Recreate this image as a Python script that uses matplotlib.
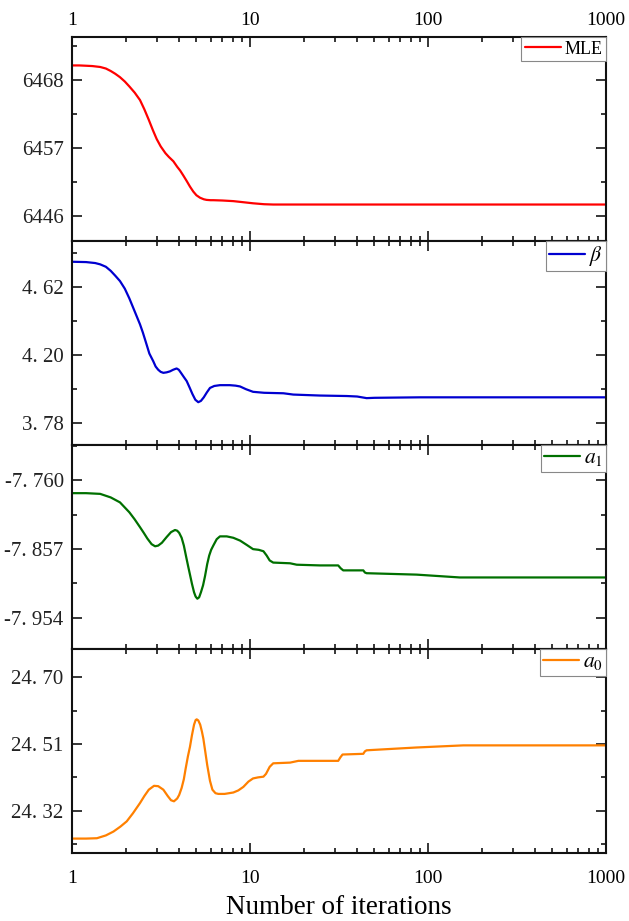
import matplotlib
matplotlib.use("Agg")
import matplotlib.pyplot as plt
from matplotlib.ticker import FixedLocator, FixedFormatter, LogLocator, NullFormatter

plt.rcParams['font.family'] = ['Liberation Serif', 'DejaVu Serif']
plt.rcParams['mathtext.fontset'] = 'stix'

# ---------------- data ----------------
mle_iter = [1, 1.1, 1.2, 1.3, 1.44, 1.55, 1.65, 1.75, 1.86, 1.98, 2.1, 2.25, 2.41, 2.55, 2.7,
            2.85, 2.99, 3.15, 3.35, 3.5, 3.71, 3.9, 4.05, 4.22, 4.41, 4.6, 4.8, 5.0, 5.24,
            5.5, 5.7, 6.0, 6.22, 7, 8.06, 9, 10.4, 12, 13.5, 20, 1000]
mle_vals = [6470.4, 6470.4, 6470.35, 6470.3, 6470.15, 6469.9, 6469.5, 6469.05, 6468.5,
            6467.8, 6467.0, 6466.0, 6464.8, 6463.3, 6461.6, 6459.9, 6458.5, 6457.3, 6456.2,
            6455.6, 6454.9, 6454.0, 6453.4, 6452.6, 6451.7, 6450.8, 6450.0, 6449.4, 6449.0,
            6448.75, 6448.65, 6448.6, 6448.6, 6448.55, 6448.45, 6448.3, 6448.1, 6447.95,
            6447.9, 6447.9, 6447.9]

beta_iter = [1, 1.2, 1.35, 1.44, 1.55, 1.65, 1.75, 1.86, 1.98, 2.1, 2.25, 2.41, 2.5, 2.6,
             2.72, 2.86, 2.95, 3.05, 3.15, 3.26, 3.4, 3.55, 3.7, 3.87, 3.98, 4.1, 4.25,
             4.41, 4.58, 4.75, 4.93, 5.12, 5.3, 5.5, 5.72, 5.96, 6.3, 6.78, 7.7, 8.3, 8.79,
             9.5, 10.4, 12, 15.4, 17.5, 24.7, 35, 40, 45.2, 50, 90, 1000]
beta_vals = [4.776, 4.774, 4.768, 4.760, 4.745, 4.72, 4.69, 4.657, 4.61, 4.55, 4.47, 4.39,
             4.34, 4.28, 4.21, 4.163, 4.13, 4.11, 4.097, 4.091, 4.094, 4.10, 4.11, 4.118,
             4.11, 4.09, 4.065, 4.04, 4.0, 3.96, 3.925, 3.91, 3.918, 3.94, 3.97, 3.998,
             4.01, 4.015, 4.015, 4.012, 4.007, 3.99, 3.974, 3.968, 3.965, 3.957, 3.951,
             3.948, 3.945, 3.935, 3.937, 3.94, 3.94]

a1_iter = [1, 1.2, 1.44, 1.65, 1.86, 2.1, 2.25, 2.41, 2.53, 2.65, 2.8, 2.93, 3.05, 3.2,
           3.40, 3.6, 3.79, 3.9, 4.0, 4.13, 4.25, 4.38, 4.5, 4.60, 4.72, 4.85, 4.95, 5.06,
           5.18, 5.3, 5.45, 5.59, 5.75, 5.9, 6.05, 6.22, 6.5, 6.78, 7.4, 8.06, 8.8, 9.58,
           10.4, 11.2, 11.9, 12.4, 12.9, 13.5, 16.8, 18.3, 24.7, 31.3, 32.3, 33.4, 43.3,
           44.2, 45.2, 86.3, 151, 1000]
a1_vals = [-7.778, -7.778, -7.779, -7.784, -7.791, -7.805, -7.815, -7.826, -7.834, -7.842,
           -7.850, -7.853, -7.852, -7.848, -7.840, -7.833, -7.830, -7.831, -7.834, -7.841,
           -7.852, -7.868, -7.882, -7.893, -7.906, -7.918, -7.924, -7.927, -7.925, -7.918,
           -7.908, -7.895, -7.878, -7.866, -7.858, -7.852, -7.843, -7.839, -7.839, -7.841,
           -7.845, -7.851, -7.857, -7.858, -7.860, -7.866, -7.873, -7.876, -7.877, -7.879,
           -7.880, -7.880, -7.884, -7.887, -7.887, -7.890, -7.891, -7.893, -7.897, -7.897]

a0_iter = [1, 1.2, 1.38, 1.55, 1.71, 1.87, 2.03, 2.2, 2.41, 2.55, 2.7, 2.89, 3.05, 3.26,
           3.45, 3.6, 3.74, 3.9, 4.0, 4.13, 4.25, 4.35, 4.48, 4.60, 4.72, 4.85, 4.95, 5.02,
           5.12, 5.25, 5.37, 5.47, 5.6, 5.75, 5.96, 6.15, 6.4, 6.64, 7.2, 8.06, 8.6, 9.18,
           9.8, 10.4, 11.1, 11.9, 12.3, 12.9, 13.5, 16.8, 18.7, 24.7, 31.3, 32.2, 33.1,
           43.3, 44.2, 45.2, 86.3, 158, 1000]
a0_vals = [24.241, 24.241, 24.242, 24.25, 24.261, 24.275, 24.29, 24.313, 24.342, 24.362,
           24.38, 24.391, 24.39, 24.38, 24.362, 24.35, 24.347, 24.355, 24.365, 24.385,
           24.41, 24.44, 24.475, 24.502, 24.535, 24.565, 24.578, 24.58, 24.577, 24.565,
           24.545, 24.525, 24.49, 24.45, 24.405, 24.38, 24.37, 24.368, 24.368, 24.372,
           24.378, 24.388, 24.403, 24.412, 24.415, 24.417, 24.425, 24.445, 24.455, 24.457,
           24.462, 24.462, 24.462, 24.472, 24.48, 24.482, 24.489, 24.492, 24.50, 24.506,
           24.506]

mle_ticks = [6446, 6457, 6468]
mle_ticklabels = ["6446", "6457", "6468"]
beta_ticks = [3.78, 4.20, 4.62]
beta_ticklabels = ["3. 78", "4. 20", "4. 62"]
a1_ticks = [-7.954, -7.857, -7.760]
a1_ticklabels = ["-7. 954", "-7. 857", "-7. 760"]
a0_ticks = [24.32, 24.51, 24.70]
a0_ticklabels = ["24. 32", "24. 51", "24. 70"]

x_ticks = [1, 10, 100, 1000]
x_ticklabels = ["1", "10", "100", "1000"]

labels = ["MLE", r"$\beta$", r"$a_1$", r"$a_0$"]
colors = ["#ff0000", "#0000d0", "#007000", "#ff8000"]
ylims = [(6442.0, 6475.0), (3.646, 4.904), (-7.998, -7.710), (24.20, 24.78)]

series = [(mle_iter, mle_vals, mle_ticks, mle_ticklabels),
          (beta_iter, beta_vals, beta_ticks, beta_ticklabels),
          (a1_iter, a1_vals, a1_ticks, a1_ticklabels),
          (a0_iter, a0_vals, a0_ticks, a0_ticklabels)]

# ---------------- figure ----------------
fig = plt.figure(figsize=(6.29, 9.21), dpi=100)
W, H = 629.0, 921.0
left, right = 72 / W, 606 / W
top_px = [37, 241, 445, 649]
ph = 204

axes = []
for i, (xs, ys, yt, ytl) in enumerate(series):
    ax = fig.add_axes([left, 1 - (top_px[i] + ph) / H, right - left, ph / H])
    axes.append(ax)
    ax.plot(xs, ys, color=colors[i], lw=1.6, label=labels[i],
            solid_joinstyle='round', solid_capstyle='round')
    ax.set_xscale('log')
    ax.set_xlim(1, 1000)
    ax.set_ylim(*ylims[i])

    ax.xaxis.set_major_locator(FixedLocator(x_ticks))
    ax.xaxis.set_minor_locator(LogLocator(base=10, subs=range(2, 10)))
    ax.xaxis.set_minor_formatter(NullFormatter())
    ax.xaxis.set_major_formatter(FixedFormatter(x_ticklabels))

    ax.yaxis.set_major_locator(FixedLocator(yt))
    ax.yaxis.set_major_formatter(FixedFormatter(ytl))
    step = yt[1] - yt[0]
    minors = [yt[0] + step * (k + 0.5) for k in range(-2, 3)]
    ax.yaxis.set_minor_locator(FixedLocator(minors))

    ax.tick_params(which='both', direction='in', top=True, right=True, width=1.1)
    ax.tick_params(which='major', length=7)
    ax.tick_params(which='minor', length=3.5)
    ax.tick_params(axis='y', which='major', labelsize=15, pad=6, colors='black',
                   labelcolor='#222222')
    ax.tick_params(axis='x', labelbottom=(i == 3), labeltop=(i == 0), labelsize=14)
    if i == 0:
        ax.tick_params(axis='x', which='major', pad=6)
    if i == 3:
        ax.tick_params(axis='x', which='major', pad=12)
    for sp in ax.spines.values():
        sp.set_linewidth(1.5)
        sp.set_color('#111111')

    if i == 0:
        leg = ax.legend(loc='upper right', fontsize=13, frameon=True, fancybox=False,
                        borderaxespad=0, borderpad=0.2, handletextpad=0.2,
                        handlelength=2.0, framealpha=1)
    else:
        leg = ax.legend(loc='upper right', fontsize=15.5, frameon=True, fancybox=False,
                        borderaxespad=0, borderpad=0.15, handletextpad=0.2,
                        handlelength=1.65, framealpha=1)
    leg.get_frame().set_edgecolor('#888888')
    leg.get_frame().set_linewidth(0.8)

axes[3].set_xlabel("Number of iterations", fontsize=19.5, labelpad=6)

fig.savefig("out.png", dpi=100)
